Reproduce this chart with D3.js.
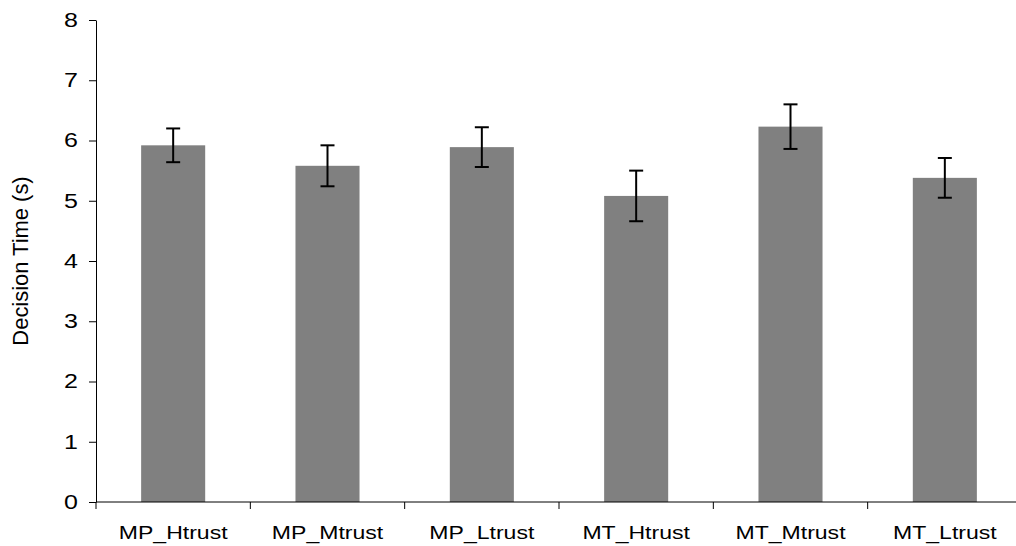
<!DOCTYPE html>
<html>
<head>
<meta charset="utf-8">
<script src="https://cdn.jsdelivr.net/npm/d3@7"></script>
<style>
  body { margin: 0; background: #fff; }
  text { font-family: "Liberation Sans", Arial, sans-serif; fill: #000; }
</style>
</head>
<body>
<div id="chart"></div>
<script>
// Chart values
const categories = ['MP_Htrust', 'MP_Mtrust', 'MP_Ltrust', 'MT_Htrust', 'MT_Mtrust', 'MT_Ltrust'];
const means = [5.92, 5.58, 5.89, 5.08, 6.23, 5.38];
const errors = [0.28, 0.34, 0.33, 0.42, 0.37, 0.33];
const yTicks = [0, 1, 2, 3, 4, 5, 6, 7, 8];

const width = 1016;
const height = 546;
const margin = { top: 20, right: -6, bottom: 44, left: 96 };
const stretch = 1.25; // text in the original is drawn wider than normal

const svg = d3.select('#chart')
    .append('svg')
    .attr('width', width)
    .attr('height', height);

const x = d3.scaleBand()
    .domain(categories)
    .range([margin.left, width - margin.right])
    .paddingInner(0.585)
    .paddingOuter(0.2925);

const xOuter = d3.scaleBand()
    .domain(categories)
    .range([margin.left, width - margin.right]);

const y = d3.scaleLinear()
    .domain([0, 8])
    .range([height - margin.bottom, margin.top]);

// Bars
svg.append('g')
    .selectAll('rect')
    .data(means)
    .enter()
    .append('rect')
    .attr('x', (d, i) => x(categories[i]))
    .attr('width', x.bandwidth())
    .attr('y', d => y(d))
    .attr('height', d => y(0) - y(d))
    .attr('fill', '#808080');

// Error bars
const err = svg.append('g')
    .selectAll('g')
    .data(means)
    .enter()
    .append('g')
    .attr('stroke', '#000')
    .attr('stroke-width', 2);

const cx = (i) => x(categories[i]) + x.bandwidth() / 2;

err.append('line')
    .attr('x1', (d, i) => cx(i))
    .attr('x2', (d, i) => cx(i))
    .attr('y1', (d, i) => y(d + errors[i]))
    .attr('y2', (d, i) => y(d - errors[i]));
err.append('line')
    .attr('x1', (d, i) => cx(i) - 7)
    .attr('x2', (d, i) => cx(i) + 7)
    .attr('y1', (d, i) => y(d + errors[i]))
    .attr('y2', (d, i) => y(d + errors[i]));
err.append('line')
    .attr('x1', (d, i) => cx(i) - 7)
    .attr('x2', (d, i) => cx(i) + 7)
    .attr('y1', (d, i) => y(d - errors[i]))
    .attr('y2', (d, i) => y(d - errors[i]));

// Y axis
const yAxis = svg.append('g')
    .attr('transform', `translate(${margin.left},0)`)
    .call(d3.axisLeft(y).tickValues(yTicks).tickSize(7).tickSizeOuter(0));
yAxis.select('.domain').attr('stroke', '#000').attr('stroke-width', 1);
yAxis.selectAll('.tick line').attr('stroke', '#000');
yAxis.selectAll('.tick text')
    .attr('font-size', '20px')
    .attr('fill', '#000')
    .attr('x', -18 / stretch)
    .attr('transform', `scale(${stretch},1)`);

// X axis: ticks between categories
const xAxis = svg.append('g')
    .attr('transform', `translate(0,${y(0)})`);
xAxis.append('line')
    .attr('x1', margin.left)
    .attr('x2', width)
    .attr('stroke', '#000');
xAxis.selectAll('.xtick')
    .data(categories)
    .enter()
    .append('line')
    .attr('x1', d => xOuter(d))
    .attr('x2', d => xOuter(d))
    .attr('y1', 0)
    .attr('y2', 7)
    .attr('stroke', '#000');
xAxis.selectAll('.xlabel')
    .data(categories)
    .enter()
    .append('text')
    .attr('transform', d => `translate(${xOuter(d) + xOuter.bandwidth() / 2},37) scale(${stretch * 0.97},1)`)
    .attr('text-anchor', 'middle')
    .attr('font-size', '19px')
    .text(d => d);

// Y label
svg.append('text')
    .attr('transform', `translate(28,${(y(0) + y(8)) / 2}) rotate(-90) scale(1.29,${stretch})`)
    .attr('text-anchor', 'middle')
    .attr('font-size', '17px')
    .text('Decision Time (s)');
</script>
</body>
</html>
